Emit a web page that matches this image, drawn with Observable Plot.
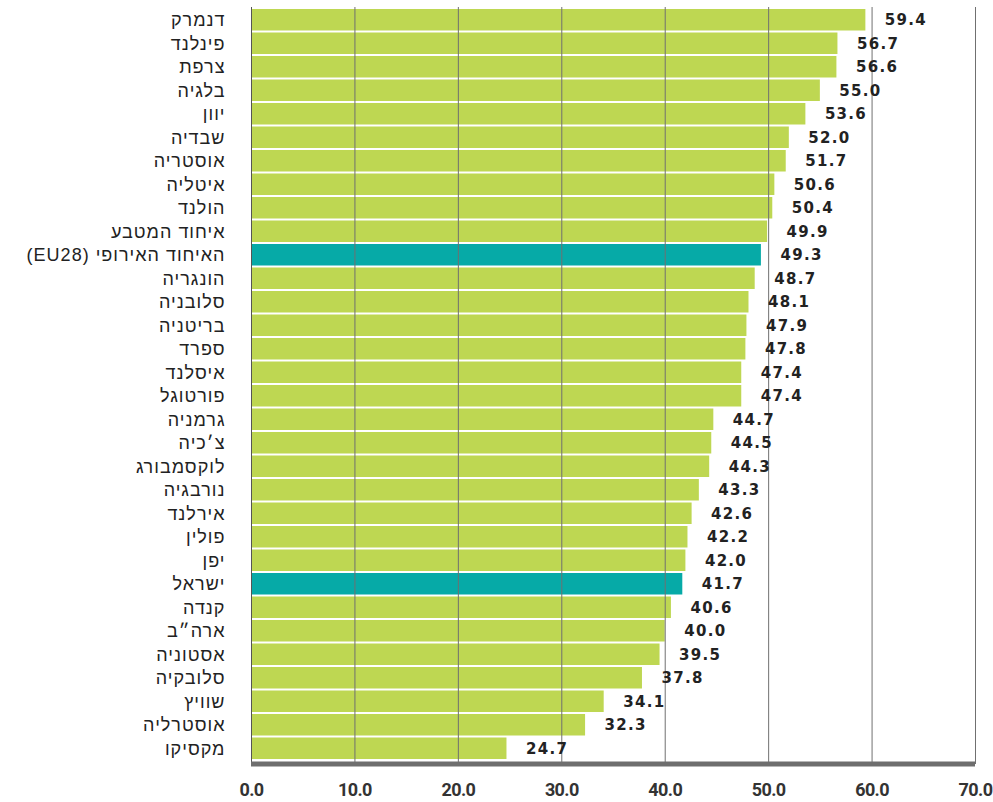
<!DOCTYPE html>
<html><head><meta charset="utf-8">
<script src="https://cdn.jsdelivr.net/npm/d3@7"></script>
<script src="https://cdn.jsdelivr.net/npm/@observablehq/plot@0.6"></script>
<style>
body{margin:0;background:#fff}
svg{display:block}
g[font-family="DejaVu Sans, Verdana, sans-serif"] text{letter-spacing:1.3px}
g[aria-label="y-axis tick label"] text{letter-spacing:1px}
g[aria-label="x-axis tick label"] text{letter-spacing:-0.6px}
</style>
</head><body><div id="chart"></div>
<script>
const countries = ["דנמרק","פינלנד","צרפת","בלגיה","יוון","שבדיה","אוסטריה","איטליה","הולנד","איחוד המטבע","האיחוד האירופי (EU28)","הונגריה","סלובניה","בריטניה","ספרד","איסלנד","פורטוגל","גרמניה","צ׳כיה","לוקסמבורג","נורבגיה","אירלנד","פולין","יפן","ישראל","קנדה","ארה״ב","אסטוניה","סלובקיה","שוויץ","אוסטרליה","מקסיקו"];
const values = [59.4,56.7,56.6,55.0,53.6,52.0,51.7,50.6,50.4,49.9,49.3,48.7,48.1,47.9,47.8,47.4,47.4,44.7,44.5,44.3,43.3,42.6,42.2,42.0,41.7,40.6,40.0,39.5,37.8,34.1,32.3,24.7];
const highlighted = ["האיחוד האירופי (EU28)","ישראל"];
const xTicks = [0,10,20,30,40,50,60,70];

const data = countries.map((c,i)=>({country:c, value:values[i], hl:highlighted.includes(c)}));
const rtl = s => "\u202B" + s + "\u202C";

// thick baseline under the bars, drawn from the x scale and the frame
const baseline = (index, scales, values, dims) => {
  const x = scales.x;
  const y = dims.height - dims.marginBottom;
  return d3.create("svg:line")
    .attr("x1", x(0)).attr("x2", x(70))
    .attr("y1", y).attr("y2", y)
    .attr("stroke", "#6e6e6e").attr("stroke-width", 5)
    .node();
};

const chart = Plot.plot({
  width: 993, height: 802,
  marginTop: 7, marginBottom: 38, marginLeft: 251, marginRight: 18,
  x: {domain:[0,70], label:null},
  y: {domain: countries, range:[7,761], padding:0.085, round:false, label:null},
  style: {background:"white"},
  marks: [
    Plot.barX(data, {x:"value", y:"country", fill: d => d.hl ? "#06aaa7" : "#bed752"}),
    Plot.gridX(xTicks.slice(1), {stroke:"#707070", strokeOpacity:1}),
    Plot.ruleX([0], {stroke:"#555"}),
    baseline,
    Plot.text(data, {x:"value", y:"country", text: d => d.value.toFixed(1), textAnchor:"start", dx:19, fontSize:15, fontWeight:"bold", fontFamily:"DejaVu Sans, Verdana, sans-serif", fill:"#222"}),
    Plot.axisX(xTicks, {tickSize:0, tickPadding:19, tickFormat: d => d.toFixed(1), fontSize:18, fontWeight:"bold", fontFamily:"Liberation Sans Narrow, Roboto, sans-serif", fill:"#333", label:null}),
    Plot.axisY({tickSize:0, tickPadding:26, tickFormat: rtl, fontSize:18, fontFamily:"Liberation Sans, Arial, sans-serif", fill:"#222", label:null})
  ]
});
document.getElementById("chart").appendChild(chart);
</script>
</body></html>
